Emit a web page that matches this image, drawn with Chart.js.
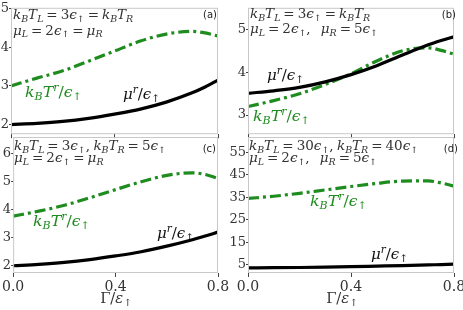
<!DOCTYPE html>
<html>
<head>
<meta charset="utf-8">
<script src="https://cdn.jsdelivr.net/npm/chart.js@4.4.0/dist/chart.umd.min.js"></script>
<style>
body { margin: 0; background: #fff; overflow: hidden; }
#wrap { position: relative; width: 463px; height: 310px; overflow: hidden; }
canvas { position: absolute; }
</style>
</head>
<body>
<div id="wrap"></div>
<script>
// coupling strength Γ/ε↑
const gamma = [0, 0.1, 0.2, 0.3, 0.4, 0.5, 0.6, 0.7, 0.75, 0.8];
const xTicks = [0, 0.4, 0.8];

// (a)
const muA = [2.0, 2.03, 2.08, 2.16, 2.27, 2.40, 2.58, 2.82, 2.97, 3.15];
const tA  = [3.0, 3.20, 3.39, 3.64, 3.90, 4.16, 4.34, 4.41, 4.37, 4.29];
const yTicksA = [2, 3, 4, 5];
// (b)
const muB = [3.51, 3.57, 3.65, 3.78, 3.95, 4.16, 4.41, 4.65, 4.75, 4.84];
const tB  = [3.20, 3.34, 3.50, 3.72, 3.97, 4.27, 4.51, 4.58, 4.52, 4.43];
const yTicksB = [3, 4, 5];
// (c)
const muC = [2.0, 2.05, 2.12, 2.22, 2.35, 2.50, 2.70, 2.93, 3.06, 3.20];
const tC  = [3.77, 3.95, 4.16, 4.43, 4.72, 5.00, 5.23, 5.32, 5.26, 5.12];
const yTicksC = [2, 3, 4, 5, 6];
// (d)
const muD = [3.7, 3.75, 3.85, 4.0, 4.2, 4.45, 4.7, 5.0, 5.15, 5.3];
const tD  = [34.5, 35.5, 36.8, 38.3, 39.8, 41.2, 42.2, 42.3, 41.4, 40.0];
const yTicksD = [5, 15, 25, 35, 45, 55];

const GREEN = '#1f8c1f';
const SERIF = '"DejaVu Serif"';

// tiny math-text: letters italic, _x subscript, ^x superscript
function parseMath(s) {
  const out = [];
  for (let i = 0; i < s.length; i++) {
    const c = s[i];
    if (c === '_' || c === '^') {
      out.push([s[i + 1], c === '_' ? 'sub' : 'sup']);
      i++;
    } else if (/[A-Za-zα-ωϵμε]/.test(c)) {
      out.push([c, 'it']);
    } else {
      out.push([c, 'rm']);
    }
  }
  return out;
}

function drawMath(ctx, s, x, y, size, color, align, sx) {
  const segs = parseMath(s);
  const fontFor = k => {
    const small = k === 'sub' || k === 'sup';
    const fs = small ? size * 0.7 : size;
    return (k === 'rm' ? '' : 'italic ') + fs + 'px ' + SERIF;
  };
  const adv = (t, k) => {
    if (t === ' ') return size * 0.25;
    ctx.font = fontFor(k);
    const w = ctx.measureText(t).width;
    return t === '=' ? w + size * 0.44 : w;
  };
  let w = 0;
  for (const [t, k] of segs) w += adv(t, k);
  ctx.save();
  ctx.translate(align === 'center' ? x - w * sx / 2 : x, y);
  ctx.scale(sx, 1);
  ctx.fillStyle = color;
  ctx.textAlign = 'left';
  ctx.textBaseline = 'alphabetic';
  let cx = 0;
  for (const [t, k] of segs) {
    const a = adv(t, k);
    if (t !== ' ') {
      ctx.font = fontFor(k);
      const dy = k === 'sub' ? size * 0.22 : k === 'sup' ? -size * 0.4 : 0;
      ctx.fillText(t, t === '=' ? cx + size * 0.22 : cx, dy);
    }
    cx += a;
  }
  ctx.restore();
}

const notesPlugin = {
  id: 'notes',
  afterDraw(chart, args, opts) {
    const ctx = chart.ctx;
    const a = chart.chartArea;
    ctx.save();
    ctx.strokeStyle = '#c8c8c8';
    ctx.lineWidth = 1;
    ctx.strokeRect(a.left + 0.5, a.top + 0.5, a.right - a.left - 1, a.bottom - a.top - 1);
    for (const n of opts.items) {
      drawMath(ctx, n.s, n.x - opts.ox, n.y - opts.oy, n.size || 12.5, n.color || '#333', n.align, n.sx || 1.08);
    }
    ctx.font = '10px "DejaVu Sans"';
    ctx.fillStyle = '#222';
    ctx.textAlign = 'right';
    ctx.textBaseline = 'middle';
    ctx.fillText(opts.tag, opts.tagX - opts.ox, opts.tagY - opts.oy);
    ctx.restore();
  }
};

const panels = [
  { tag: '(a)', tagX: 217, tagY: 15, area: [11, 4, 218, 137], yr: [1.75, 5.02], yt: yTicksA, mu: muA, t: tA, showX: false,
    notes: [
      { s: 'k_BT_L=3ϵ_↑=k_BT_R', x: 13, y: 19 },
      { s: 'μ_L=2ϵ_↑=μ_R', x: 13, y: 34.5 },
      { s: 'k_BT^r/ϵ_↑', x: 25, y: 97, color: GREEN, size: 15, sx: 1.05 },
      { s: 'μ^r/ϵ_↑', x: 123, y: 99, color: '#111', size: 15, sx: 1.0 }
    ] },
  { tag: '(b)', tagX: 456, tagY: 15, area: [248, 4, 454, 137], yr: [2.55, 5.52], yt: yTicksB, mu: muB, t: tB, showX: false,
    notes: [
      { s: 'k_BT_L=3ϵ_↑=k_BT_R', x: 250, y: 18 },
      { s: 'μ_L=2ϵ_↑,   μ_R=5ϵ_↑', x: 250, y: 33 },
      { s: 'μ^r/ϵ_↑', x: 267, y: 80, color: '#111', size: 15, sx: 1.0 },
      { s: 'k_BT^r/ϵ_↑', x: 253, y: 121, color: GREEN, size: 15, sx: 1.05 }
    ] },
  { tag: '(c)', tagX: 216, tagY: 149, area: [11, 137, 218, 273], yr: [1.74, 6.6], yt: yTicksC, mu: muC, t: tC, showX: true,
    notes: [
      { s: 'k_BT_L=3ϵ_↑, k_BT_R=5ϵ_↑', x: 14, y: 150 },
      { s: 'μ_L=2ϵ_↑=μ_R', x: 14, y: 162 },
      { s: 'k_BT^r/ϵ_↑', x: 33, y: 226, color: GREEN, size: 15, sx: 1.05 },
      { s: 'μ^r/ϵ_↑', x: 157, y: 238, color: '#111', size: 15, sx: 1.0 },
      { s: 'Γ/ε_↑', x: 116, y: 303, align: 'center', size: 14, sx: 1.05 }
    ] },
  { tag: '(d)', tagX: 458, tagY: 149, area: [248, 137, 454, 273], yr: [1.4, 61.8], yt: yTicksD, mu: muD, t: tD, showX: true,
    notes: [
      { s: 'k_BT_L=30ϵ_↑, k_BT_R=40ϵ_↑', x: 249, y: 150 },
      { s: 'μ_L=2ϵ_↑,   μ_R=5ϵ_↑', x: 249, y: 162 },
      { s: 'k_BT^r/ϵ_↑', x: 310, y: 206, color: GREEN, size: 15, sx: 1.05 },
      { s: 'μ^r/ϵ_↑', x: 371, y: 259, color: '#111', size: 15, sx: 1.0 },
      { s: 'Γ/ε_↑', x: 342, y: 303, align: 'center', size: 14, sx: 1.05 }
    ] }
];

const wrap = document.getElementById('wrap');

panels.forEach(p => {
  const [l, t, r, b] = p.area;
  const ml = Math.min(30, l);
  const mt = Math.min(8, t);
  const mr = 14;
  const mb = p.showX ? 310 - b : 5;
  const cv = document.createElement('canvas');
  const W = ml + (r - l) + mr, H = mt + (b - t) + mb;
  cv.width = W; cv.height = H;
  cv.style.left = (l - ml) + 'px';
  cv.style.top = (t - mt) + 'px';
  cv.style.width = W + 'px';
  cv.style.height = H + 'px';
  wrap.appendChild(cv);

  new Chart(cv.getContext('2d'), {
    type: 'line',
    data: {
      datasets: [{
        label: 'mu',
        data: gamma.map((g, i) => ({ x: g, y: p.mu[i] })),
        borderColor: '#000',
        borderWidth: 3.2,
        pointRadius: 0,
        cubicInterpolationMode: 'monotone'
      }, {
        label: 'T',
        data: gamma.map((g, i) => ({ x: g, y: p.t[i] })),
        borderColor: GREEN,
        borderWidth: 3.2,
        borderDash: [11, 4, 3, 4],
        pointRadius: 0,
        cubicInterpolationMode: 'monotone'
      }]
    },
    options: {
      responsive: false,
      animation: false,
      layout: { padding: { left: 0, top: mt, right: mr, bottom: 0 } },
      plugins: {
        legend: { display: false },
        tooltip: { enabled: false },
        notes: { items: p.notes, tag: p.tag, tagX: p.tagX, tagY: p.tagY, ox: l - ml, oy: t - mt }
      },
      scales: {
        x: {
          type: 'linear',
          min: 0, max: 0.8,
          afterBuildTicks: s => { s.ticks = xTicks.map(v => ({ value: v })); },
          afterFit: s => { s.height = mb; },
          border: { display: false },
          grid: { drawOnChartArea: false, drawTicks: true, tickLength: 4, color: '#444' },
          ticks: {
            display: p.showX,
            maxRotation: 0,
            padding: 2,
            color: '#333',
            font: { family: 'DejaVu Serif', size: 14 },
            callback: v => v.toFixed(1)
          }
        },
        y: {
          min: p.yr[0], max: p.yr[1],
          afterBuildTicks: s => { s.ticks = p.yt.map(v => ({ value: v })); },
          afterFit: s => { s.width = ml; },
          border: { display: false },
          grid: { drawOnChartArea: false, drawTicks: true, tickLength: 2, color: '#444' },
          ticks: {
            padding: 0,
            color: '#333',
            font: { family: 'DejaVu Serif', size: 13 }
          }
        }
      }
    },
    plugins: [notesPlugin]
  });
});
</script>
</body>
</html>
